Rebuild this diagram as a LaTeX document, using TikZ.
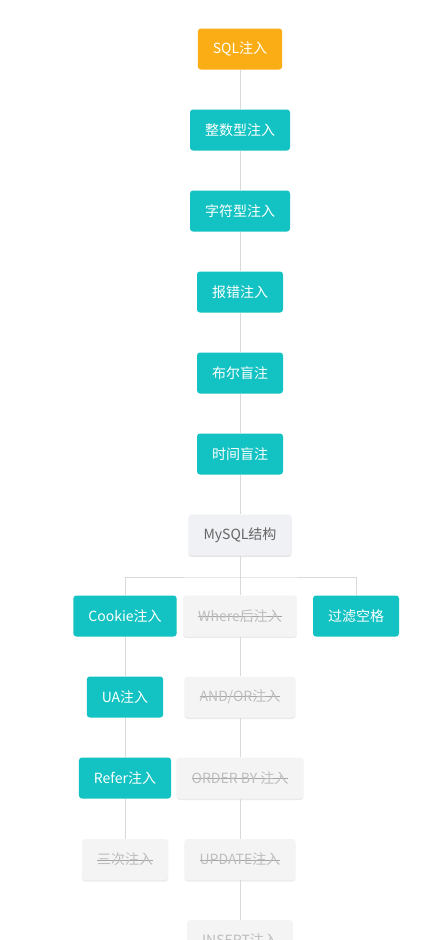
\documentclass[tikz,border=0pt]{standalone}
\usepackage{fontspec}
\setmainfont{Noto Sans CJK SC}
\usetikzlibrary{shadows}

\definecolor{jcyan}{HTML}{13C2C2}
\definecolor{jgold}{HTML}{FAAD14}
\definecolor{jline}{HTML}{D9D9D9}
\definecolor{jgrey}{HTML}{F4F4F4}
\definecolor{jgreyb}{HTML}{F0F1F4}
\definecolor{jtext}{HTML}{BDBDBD}

% 删除线
\newcommand\strk[1]{\setbox0\hbox{#1}\rlap{\color{black!35}\rule[0.32em]{\wd0}{0.7pt}}\box0}

\begin{document}
\begin{tikzpicture}[x=1pt,y=-1pt,
    box/.style={rounded corners=3pt, minimum height=41pt, inner xsep=15pt, inner ysep=0pt,
                font=\fontsize{14}{16}\selectfont},
    hot/.style={box, fill=jgold, text=white},
    ok/.style={box, fill=jcyan, text=white},
    base/.style={box, fill=jgreyb, text=black!60,
                 drop shadow={shadow xshift=0pt, shadow yshift=-1.5pt, opacity=.10, fill=black}},
    off/.style={box, fill=jgrey, text=jtext,
                drop shadow={shadow xshift=0pt, shadow yshift=-1.5pt, opacity=.08, fill=black}},
    link/.style={draw=jline, line width=1pt}]

    \fill[white] (0,0) rectangle (440,940);
    \clip (0,0) rectangle (440,940);

    % === 主干 ===
    \node[hot] (sql) at (240,49) {SQL注入};
    \node[ok] (int) at (240,130) {整数型注入};
    \node[ok] (str) at (240,211) {字符型注入};
    \node[ok] (err) at (240,292) {报错注入};
    \node[ok] (bool) at (240,373) {布尔盲注};
    \node[ok] (time) at (240,454) {时间盲注};
    \node[base] (mysql) at (240,535) {MySQL结构};

    % 分叉点
    \coordinate (fork) at (240,577);

    % === 左列 ===
    \node[ok] (cookie) at (125,616) {Cookie注入};
    \node[ok] (ua) at (125,697) {UA注入};
    \node[ok] (refer) at (125,778) {Refer注入};
    \node[off] (third) at (125,859.5) {\strk{三次注入}};

    % === 中列 ===
    \node[off] (where) at (240,616) {\strk{Where后注入}};
    \node[off] (andor) at (240,697) {\strk{AND/OR注入}};
    \node[off] (order) at (240,778) {\strk{ORDER BY 注入}};
    \node[off] (update) at (240,859.5) {\strk{UPDATE注入}};
    \node[off] (insert) at (240,940.5) {\strk{INSERT注入}};

    % === 右列 ===
    \node[ok] (space) at (356,616) {过滤空格};

    % 连线
    \draw[link] (sql) -- (int) -- (str) -- (err) -- (bool) -- (time) -- (mysql);
    \draw[link] (mysql) -- (fork);
    \draw[link] (cookie) |- (fork) -| (space);
    \draw[link] (fork) -- (where);
    \draw[link] (cookie) -- (ua) -- (refer) -- (third);
    \draw[link] (where) -- (andor) -- (order) -- (update) -- (insert);
\end{tikzpicture}
\end{document}
